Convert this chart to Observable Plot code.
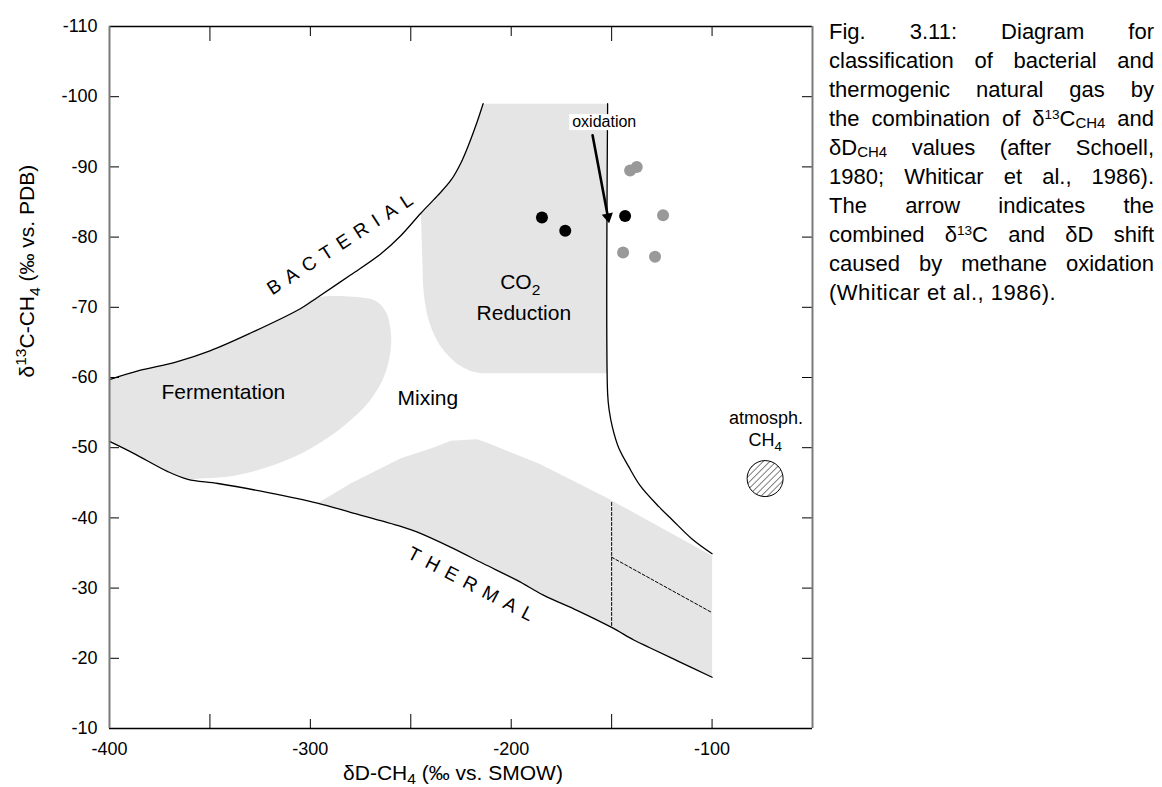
<!DOCTYPE html>
<html>
<head>
<meta charset="utf-8">
<script src="https://cdn.jsdelivr.net/npm/d3@7"></script>
<script src="https://cdn.jsdelivr.net/npm/@observablehq/plot@0.6"></script>
<style>
  body { margin: 0; background: #fff; font-family: "Liberation Sans", Arial, sans-serif; }
  #wrap { position: relative; width: 1162px; height: 787px; overflow: hidden; }
  #chart { position: absolute; left: 0; top: 0; }
  #caption { position: absolute; left: 829px; top: 17px; width: 325px; font-size: 22px; line-height: 29px; color: #000; }
  #caption .l { text-align: justify; text-align-last: justify; height: 29px; }
  #caption .l.last { text-align: left; text-align-last: left; letter-spacing: 0.5px; }
  #caption sup { font-size: 0.62em; line-height: 0; vertical-align: 0.55em; }
  #caption sub { font-size: 0.68em; line-height: 0; vertical-align: -0.12em; }
</style>
</head>
<body>
<div id="wrap">
  <div id="chart"></div>
  <div id="caption">
    <div class="l">Fig. 3.11: Diagram for</div>
    <div class="l">classification of bacterial and</div>
    <div class="l">thermogenic natural gas by</div>
    <div class="l">the combination of δ<sup>13</sup>C<sub>CH4</sub> and</div>
    <div class="l">δD<sub>CH4</sub> values (after Schoell,</div>
    <div class="l">1980; Whiticar et al., 1986).</div>
    <div class="l">The arrow indicates the</div>
    <div class="l">combined δ<sup>13</sup>C and δD shift</div>
    <div class="l">caused by methane oxidation</div>
    <div class="l last">(Whiticar et al., 1986).</div>
  </div>
</div>
<script>
// ---------- data (δD-CH4 ‰, δ13C-CH4 ‰) ----------
const xLabelTicks = [-400, -300, -200, -100];
const xLongTicks = [-350, -250, -150];
const xShortTicks = [-300, -200, -100];
const yTicks = [-110, -100, -90, -80, -70, -60, -50, -40, -30, -20, -10];

const bacterialLine = [
  [-400, -59.7], [-385, -61.0], [-367, -62.2], [-350, -63.8], [-330, -66.3], [-305, -69.8],
  [-296.5, -71.4], [-280, -74.6], [-265, -77.6], [-255, -80.2], [-245, -83.4], [-237, -85.8],
  [-230, -88.1], [-225, -90.6], [-221, -93.3], [-217, -96.4], [-214, -99.0]
];
const thermalLine = [
  [-400, -50.9], [-388, -49.2], [-371, -46.6], [-361, -45.5], [-346, -44.9], [-321, -43.6],
  [-296.5, -42.1], [-280, -40.8], [-255, -38.8], [-247, -38.0], [-230, -35.8], [-214, -33.5],
  [-197, -31.1], [-184, -29.0], [-167, -26.8], [-150, -24.4], [-139, -22.6], [-131, -21.5],
  [-117, -19.6], [-100, -17.3]
];
const boundaryLine = [
  [-152, -99], [-152, -57.7], [-151.2, -55.3], [-149.6, -52.9], [-146.5, -50.0], [-141.5, -47.3],
  [-135.8, -44.6], [-126.5, -41.6], [-119.4, -39.6], [-110, -37.0], [-100, -34.9]
];
const fermentationEdge = [
  [-298, -71.3], [-272, -71.3], [-266.8, -70.8], [-262.3, -69.3], [-260.1, -66.9], [-259.9, -64.3],
  [-261.7, -61.5], [-265.2, -59.0], [-271.8, -56.2], [-280.1, -53.9], [-288.4, -52.0], [-305, -49.1],
  [-321.6, -47.2], [-338.1, -46.0], [-354.7, -45.6]
];
const co2Edge = [
  [-152, -99], [-152, -60.6], [-215.4, -60.6], [-220, -60.9], [-223.7, -61.4], [-227.2, -62.0],
  [-230.3, -62.8], [-233.2, -63.7], [-235.8, -64.7], [-238.1, -65.9], [-240, -67.2], [-241.5, -68.6],
  [-242.6, -70.0], [-243.4, -71.6], [-243.9, -73.3], [-244.4, -78.1], [-245, -83.4]
];
const thermogenicEdge = [
  [-100, -34.6], [-152, -42.8], [-186, -47.7], [-212, -50.7], [-217, -51.2], [-230, -51.0],
  [-239, -50.0], [-255, -48.5], [-280, -44.9], [-296.5, -42.1]
];
const dashedVertical = [[-150, -42.2], [-150, -24.4]];
const dashedDiagonal = [[-150, -34.4], [-100, -26.5]];

const blackSamples = [[-184.7, -82.8], [-173.1, -80.9], [-143.3, -83.0]];
const greySamples = [[-140.8, -89.5], [-137.5, -90.0], [-124.4, -83.1], [-144.3, -77.8], [-128.4, -77.2]];
const atmosphericCH4 = [[-73.6, -45.6]];
const oxidationArrow = [{x1: -159.5, y1: -94.5, x2: -151.1, y2: -81.75}];

const regionLabels = [
  {text: "Fermentation", x: -343.3, y: -57.9},
  {text: "Mixing", x: -241.5, y: -57.0},
  {text: "CO2", x: -195.5, y: -73.5},
  {text: "Reduction", x: -193.7, y: -69.1}
];
const atmLabels = [
  {text: "atmosph.", x: -73.1, y: -54.2},
  {text: "CH4", x: -73.6, y: -51.1}
];
const oxidationLabel = [{text: "oxidation", x: -153.7, y: -96.4}];
const bacterialLabel = [{text: "BACTERIAL", x: -283.6, y: -79.3}];
const thermalLabel = [{text: "THERMAL", x: -218.4, y: -30.3}];
const xTitle = "δD-CH4 (‰ vs. SMOW)";
const yTitle = "δ13C-CH4 (‰ vs. PDB)";

// ---------- derived polygons ----------
const fermentationZone = [
  ...bacterialLine.filter(d => d[0] <= -298),
  ...fermentationEdge,
  ...thermalLine.filter(d => d[0] < -354.7).reverse()
];
const co2Zone = [...bacterialLine.filter(d => d[0] >= -245), ...co2Edge];
const thermogenicZone = [...thermalLine.filter(d => d[0] >= -296.5), ...thermogenicEdge];

const X = d => d[0], Y = d => d[1];
const shade = "#e5e5e5";
const plotH = 702, plotW = 703;
const smooth = "catmull-rom";

const chart = Plot.plot({
  width: 822,
  height: 787,
  marginLeft: 109,
  marginRight: 10,
  marginTop: 26,
  marginBottom: 59,
  x: {domain: [-400, -50]},
  y: {domain: [-10, -110]},
  style: {fontFamily: "'Liberation Sans', Arial, sans-serif", color: "black", background: "white", overflow: "visible"},
  marks: [
    Plot.line(fermentationZone, {x: X, y: Y, fill: shade, stroke: "none", curve: smooth}),
    Plot.line(co2Zone, {x: X, y: Y, fill: shade, stroke: "none"}),
    Plot.line(thermogenicZone, {x: X, y: Y, fill: shade, stroke: "none"}),
    Plot.line(bacterialLine, {x: X, y: Y, stroke: "black", strokeWidth: 1.3, curve: smooth}),
    Plot.line(thermalLine, {x: X, y: Y, stroke: "black", strokeWidth: 1.3, curve: smooth}),
    Plot.line(boundaryLine, {x: X, y: Y, stroke: "black", strokeWidth: 1.3, curve: smooth}),
    Plot.line(dashedVertical, {x: X, y: Y, stroke: "black", strokeWidth: 1, strokeDasharray: "3,2"}),
    Plot.line(dashedDiagonal, {x: X, y: Y, stroke: "black", strokeWidth: 1, strokeDasharray: "3,2"}),
    Plot.dot(greySamples, {x: X, y: Y, r: 6, fill: "#999999", stroke: "none"}),
    Plot.dot(blackSamples, {x: X, y: Y, r: 6, fill: "black", stroke: "none"}),
    Plot.dot(atmosphericCH4, {x: X, y: Y, r: 18, fill: "url(#hatch)", stroke: "black", strokeWidth: 1}),
    Plot.text(oxidationLabel, {x: "x", y: "y", text: "text", fontSize: 16}),
    Plot.arrow(oxidationArrow, {x1: "x1", y1: "y1", x2: "x2", y2: "y2", stroke: "black", strokeWidth: 2.6, headLength: 0, insetEnd: 6}),
    Plot.dot(oxidationArrow, {x: "x2", y: "y2", symbol: "triangle2", r: 5.4, fill: "black", stroke: "none", rotate: 169.3, dx: -1.5, dy: -8}),
    Plot.text(regionLabels, {x: "x", y: "y", text: "text", fontSize: 21}),
    Plot.text(atmLabels, {x: "x", y: "y", text: "text", fontSize: 18}),
    Plot.text(bacterialLabel, {x: "x", y: "y", text: "text", fontSize: 19, rotate: -33}),
    Plot.text(thermalLabel, {x: "x", y: "y", text: "text", fontSize: 19, rotate: 27.5}),
    // ticks (inward)
    Plot.tickX(xLongTicks, {stroke: "black", insetTop: plotH - 14}),
    Plot.tickX(xShortTicks, {stroke: "black", insetTop: plotH - 9}),
    Plot.tickX(xLongTicks, {stroke: "black", insetBottom: plotH - 15}),
    Plot.tickX(xShortTicks, {stroke: "black", insetBottom: plotH - 10}),
    Plot.tickY(yTicks, {stroke: "black", insetRight: plotW - 10}),
    Plot.tickY(yTicks, {stroke: "black", insetLeft: plotW - 10}),
    // frame
    Plot.ruleY([-110, -10], {stroke: "black", strokeWidth: 1.3}),
    Plot.ruleX([-400, -50], {stroke: "#7a7a7a", strokeWidth: 2}),
    // axes labels
    Plot.axisX(xLabelTicks, {anchor: "bottom", tickSize: 0, tickPadding: 14, fontSize: 18, tickFormat: d => String(d), label: null}),
    Plot.axisY(yTicks, {anchor: "left", tickSize: 0, tickPadding: 12, fontSize: 18, tickFormat: d => String(d), label: null}),
    Plot.text([xTitle], {frameAnchor: "bottom", dy: 51, dx: -8, fontSize: 21}),
    Plot.text([yTitle], {frameAnchor: "left", dx: -82, rotate: -90, fontSize: 21})
  ]
});

document.getElementById("chart").appendChild(chart);

// ---------- post-processing: patterns, sub/superscripts, label background ----------
const svg = d3.select(chart);
const defs = svg.insert("defs", ":first-child");
const pat = defs.append("pattern")
  .attr("id", "hatch")
  .attr("patternUnits", "userSpaceOnUse")
  .attr("width", 4.6).attr("height", 4.6)
  .attr("patternTransform", "rotate(45)");
pat.append("rect").attr("width", 4.6).attr("height", 4.6).attr("fill", "white");
pat.append("line").attr("x1", 0).attr("y1", 0).attr("x2", 0).attr("y2", 4.6)
  .attr("stroke", "black").attr("stroke-width", 1);

function richify(match, parts, fs, subShift = 0.28) {
  svg.selectAll("text").filter(function () { return this.textContent === match; }).each(function () {
    const t = d3.select(this);
    t.text(null);
    let shift = 0;
    for (const [s, kind] of parts) {
      const span = t.append("tspan").text(s);
      const target = kind === "sup" ? -0.4 * fs : kind === "sub" ? subShift * fs : 0;
      if (target !== shift) { span.attr("dy", target - shift); shift = target; }
      if (kind) span.attr("font-size", 0.74 * fs);
    }
  });
}
richify("CO2", [["CO"], ["2", "sub"]], 21);
richify("CH4", [["CH"], ["4", "sub"]], 18);
richify(xTitle, [["δD-CH"], ["4", "sub"], [" (‰ vs. SMOW)"]], 21, 0.2);
richify(yTitle, [["δ"], ["13", "sup"], ["C-CH"], ["4", "sub"], [" (‰ vs. PDB)"]], 21);

svg.selectAll("text").filter(function () { return this.textContent === "BACTERIAL" || this.textContent === "THERMAL"; })
  .attr("letter-spacing", "8px");

svg.selectAll("text").filter(function () { return this.textContent === "oxidation"; }).each(function () {
  const b = this.getBBox();
  d3.select(this.parentNode).insert("rect", () => this)
    .attr("x", b.x - 3).attr("y", b.y + 1).attr("width", b.width + 6).attr("height", b.height - 1)
    .attr("fill", "white")
    .attr("transform", this.getAttribute("transform"));
});
</script>
</body>
</html>
